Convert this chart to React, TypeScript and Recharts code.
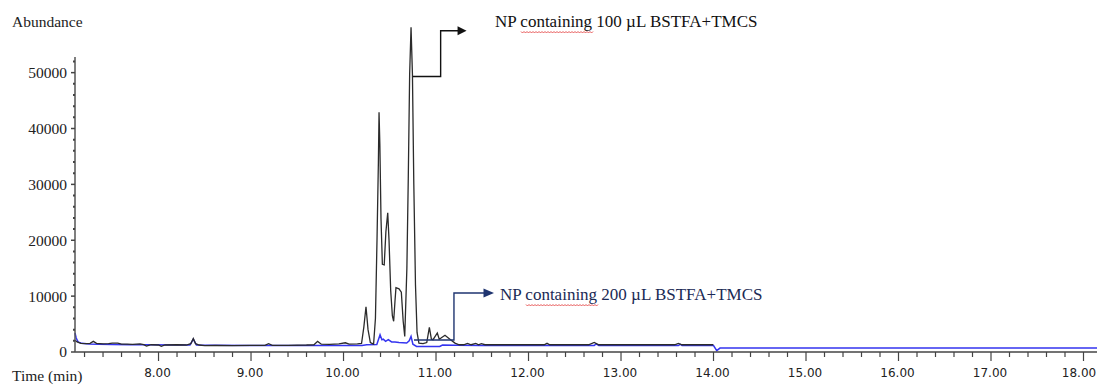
import React from 'react';
import { LineChart, Line, XAxis, YAxis } from 'recharts';

const W = 1097;
const H = 385;
const Y_AXIS_W = 75;
const X_AXIS_H = 33;
const TOP = 57;

const X_DOMAIN: [number, number] = [7.097, 18.146];
const Y_DOMAIN: [number, number] = [0, 52800];

// NP containing 100 µL BSTFA+TMCS (black trace)
const blackTime = [
  7.097, 7.12, 7.16, 7.22, 7.26, 7.295, 7.33, 7.4, 7.46, 7.5, 7.56, 7.6, 7.66, 7.72, 7.8, 7.84, 7.87, 7.92,
  8.0, 8.03, 8.07, 8.2, 8.3, 8.35, 8.376, 8.4, 8.44, 8.5, 8.62, 8.8, 9.0, 9.15, 9.19, 9.23, 9.4, 9.6, 9.68,
  9.72, 9.76, 9.85, 9.95, 10.02, 10.06, 10.15, 10.195, 10.22, 10.243, 10.265, 10.29, 10.325, 10.345, 10.362,
  10.377, 10.384, 10.393, 10.405, 10.42, 10.44, 10.458, 10.478, 10.492, 10.51, 10.528, 10.542, 10.556, 10.567,
  10.6, 10.625, 10.645, 10.662, 10.685, 10.7, 10.715, 10.73, 10.745, 10.76, 10.778, 10.795, 10.815, 10.86,
  10.9, 10.928, 10.95, 10.968, 11.014, 11.035, 11.054, 11.097, 11.15, 11.205, 11.25, 11.3, 11.34, 11.38,
  11.43, 11.46, 11.49, 11.53, 12.0, 12.17, 12.2, 12.23, 12.65, 12.71, 12.76, 13.58, 13.62, 13.66, 13.998,
];
const blackAbund = [
  2100, 1800, 1550, 1500, 1550, 1900, 1550, 1450, 1500, 1600, 1600, 1400, 1400, 1350, 1450, 1300, 1050, 1300,
  1250, 1000, 1250, 1300, 1250, 1500, 2400, 1500, 1250, 1150, 1200, 1150, 1200, 1200, 1500, 1200, 1200, 1250, 1300,
  1900, 1400, 1350, 1450, 1650, 1400, 1450, 1550, 4500, 8100, 4000, 1700, 1400, 6000, 20000,
  34000, 42900, 37000, 24000, 15700, 15600, 21500, 24900, 20000, 11000, 6500, 5500, 9000, 11500,
  11300, 10700, 5500, 2800, 15000, 31000, 49800, 58100, 49800, 30000, 12000, 3500, 1600, 1500,
  1700, 4400, 2300, 2200, 3400, 2300, 2500, 3000, 2300, 1600, 1300, 1300, 1550, 1300,
  1550, 1300, 1500, 1300, 1300, 1300, 1550, 1300, 1300, 1700, 1300, 1300, 1550, 1300, 1300,
];

// NP containing 200 µL BSTFA+TMCS (blue trace)
const blueTime = [
  7.097, 7.11, 7.13, 7.17, 7.25, 7.35, 7.5, 7.7, 7.9, 8.2, 8.34, 8.376, 8.41, 8.6, 9.0, 9.5, 10.0, 10.2,
  10.25, 10.36, 10.395, 10.415, 10.43, 10.455, 10.484, 10.52, 10.557, 10.6, 10.683, 10.71, 10.73, 10.75,
  10.79, 11.04, 11.07, 11.22, 11.5, 12.71, 12.73, 12.76, 13.62, 13.64, 13.66, 14.0, 14.035, 14.07, 18.146,
];
const blueAbund = [
  3400, 2500, 1800, 1550, 1450, 1400, 1350, 1300, 1280, 1250, 1250, 2300, 1250, 1200, 1150, 1150, 1150, 1150,
  1300, 1350, 3100, 2200, 2300, 1900, 2200, 1800, 1800, 1700, 1600, 2000, 2800, 1400,
  1000, 1000, 1250, 1200, 1150, 1150, 1450, 1150, 1150, 1350, 1150, 1150, 250, 700, 700,
];

const xMajorTicks = [8, 9, 10, 11, 12, 13, 14, 15, 16, 17, 18];
const xMinorTicks = Array.from({ length: 55 }, (_, i) => Math.round((7.2 + i * 0.2) * 10) / 10);
const yTicks = Array.from({ length: 27 }, (_, i) => i * 2000);

const blackData = blackTime.map((t, i) => ({ t, v: blackAbund[i] }));
const blueData = blueTime.map((t, i) => ({ t, v: blueAbund[i] }));

// pixel helpers for the annotation overlay (same domain as the axes)
const plotL = Y_AXIS_W;
const plotR = W;
const plotB = H - X_AXIS_H;
const sx = (t: number) => plotL + ((t - X_DOMAIN[0]) / (X_DOMAIN[1] - X_DOMAIN[0])) * (plotR - plotL);
const sy = (v: number) => plotB - (v / Y_DOMAIN[1]) * (plotB - TOP);

const XTick = ({ x, y, payload }: any) => {
  const v = payload.value as number;
  const major = xMajorTicks.some((m) => Math.abs(m - v) < 1e-6);
  // keep the last label inside the picture
  const lx = Math.min(x - 1, W - 18);
  return (
    <g>
      <line x1={x} x2={x} y1={y} y2={y + (major ? 9 : 5)} stroke="#444" strokeWidth={1.2} />
      {major && (
        <text x={lx} y={y + 25} textAnchor="middle" fontFamily="DejaVu Sans" fontSize={12} fill="#222">
          {v.toFixed(2)}
        </text>
      )}
    </g>
  );
};

const YTick = ({ x, y, payload }: any) => {
  const v = payload.value as number;
  const major = v % 10000 === 0;
  return (
    <g>
      <line x1={x - (major ? 4 : 2)} x2={x} y1={y} y2={y} stroke="#444" strokeWidth={major ? 1.5 : 2} />
      {major && (
        <text x={x - 8} y={y} dy="0.35em" textAnchor="end" fontFamily="Liberation Serif" fontSize={15.5} fill="#222">
          {v}
        </text>
      )}
    </g>
  );
};

const squiggle = (x0: number, x1: number, y: number) => {
  const pts: string[] = [];
  let k = 0;
  for (let x = x0; x <= x1; x += 1.5, k++) pts.push(`${x},${y + (k % 2 ? 1 : -0.5)}`);
  return pts.join(' ');
};

const Annotations = () => {
  // 100 µL connector
  const a1 = { x0: sx(10.75), y0: sy(49300), xe: sx(11.05), yt: sy(57510), tip: sx(11.33) };
  // 200 µL connector
  const a2 = { x0: sx(10.762), y0: sy(2150), xe: sx(11.194), yt: sy(10560), tip: sx(11.627) };
  const navy = '#1f3570';
  return (
    <svg width={W} height={H} style={{ position: 'absolute', left: 0, top: 0, pointerEvents: 'none' }}>
      <text x={12} y={27} fontFamily="Liberation Serif" fontSize={15.5} fill="#222">Abundance</text>
      <text x={12} y={381} fontFamily="Liberation Serif" fontSize={15.5} fill="#222">Time (min)</text>

      <polyline
        points={`${a1.x0},${a1.y0} ${a1.xe},${a1.y0} ${a1.xe},${a1.yt} ${a1.tip - 8},${a1.yt}`}
        fill="none" stroke="#111" strokeWidth={1.4}
      />
      <polygon points={`${a1.tip},${a1.yt} ${a1.tip - 9},${a1.yt - 4.5} ${a1.tip - 9},${a1.yt + 4.5}`} fill="#111" />
      <text x={495} y={27} fontFamily="Liberation Serif" fontSize={17} fill="#111">
        NP containing 100 µL BSTFA+TMCS
      </text>
      <polyline points={squiggle(521, 593, 32)} fill="none" stroke="#e03030" strokeWidth={0.8} />

      <polyline
        points={`${a2.x0},${a2.y0} ${a2.xe},${a2.y0} ${a2.xe},${a2.yt} ${a2.tip - 9},${a2.yt}`}
        fill="none" stroke={navy} strokeWidth={1.4}
      />
      <polygon points={`${a2.tip},${a2.yt} ${a2.tip - 10.5},${a2.yt - 4.5} ${a2.tip - 10.5},${a2.yt + 4.5}`} fill={navy} />
      <text x={500} y={300} fontFamily="Liberation Serif" fontSize={17} fill="#1a2a55">
        NP containing 200 µL BSTFA+TMCS
      </text>
      <polyline points={squiggle(526, 598, 305)} fill="none" stroke="#e03030" strokeWidth={0.8} />
    </svg>
  );
};

export default function App() {
  return (
    <div className="chroma" style={{ position: 'absolute', left: 0, top: 0, width: W, height: H, background: '#fff' }}>
      {/* the tallest peak rises above the axis top, so drop the series clip */}
      <style>{`.chroma .recharts-line, .chroma .recharts-line * { clip-path: none !important; }`}</style>
      <LineChart width={W} height={H} margin={{ top: TOP, right: 0, left: 0, bottom: 0 }}>
        <XAxis
          dataKey="t"
          type="number"
          domain={X_DOMAIN}
          ticks={xMinorTicks}
          interval={0}
          height={X_AXIS_H}
          tickSize={0}
          tickMargin={0}
          tickLine={false}
          tick={<XTick />}
          axisLine={{ stroke: '#444', strokeWidth: 1.6 }}
        />
        <YAxis
          type="number"
          domain={Y_DOMAIN}
          allowDataOverflow
          ticks={yTicks}
          interval={0}
          width={Y_AXIS_W}
          tickSize={0}
          tickMargin={0}
          tickLine={false}
          tick={<YTick />}
          axisLine={{ stroke: '#555', strokeWidth: 1.5 }}
        />
        <Line
          data={blueData}
          dataKey="v"
          type="linear"
          stroke="#3535f0"
          strokeWidth={1.5}
          dot={false}
          isAnimationActive={false}
        />
        <Line
          data={blackData}
          dataKey="v"
          type="linear"
          stroke="#2b2b2b"
          strokeWidth={1.3}
          dot={false}
          isAnimationActive={false}
        />
      </LineChart>
      <Annotations />
    </div>
  );
}
